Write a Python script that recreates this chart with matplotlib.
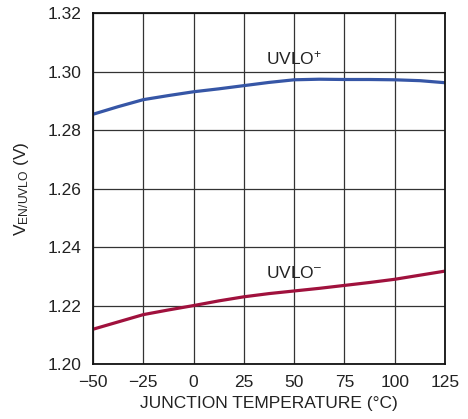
import matplotlib
matplotlib.use("Agg")
import matplotlib.pyplot as plt
from matplotlib import font_manager

temps = [-50, -37.5, -25, -12.5, 0, 12.5, 25, 37.5, 50, 62.5, 75, 87.5, 100, 112.5, 125]
uvlo_plus = [1.2855, 1.2881, 1.2905, 1.2919, 1.2932, 1.2942, 1.2953, 1.2964, 1.2973,
             1.2975, 1.2974, 1.2974, 1.2973, 1.2970, 1.2963]
uvlo_minus = [1.2119, 1.2144, 1.2169, 1.2185, 1.2200, 1.2216, 1.2230, 1.2241, 1.2250,
              1.2259, 1.2269, 1.2279, 1.2290, 1.2304, 1.2318]
xticks = [-50, -25, 0, 25, 50, 75, 100, 125]
xtick_labels = ["\u221250", "\u221225", "0", "25", "50", "75", "100", "125"]
yticks = [1.20, 1.22, 1.24, 1.26, 1.28, 1.30, 1.32]
ytick_labels = ["1.20", "1.22", "1.24", "1.26", "1.28", "1.30", "1.32"]

names = {f.name for f in font_manager.fontManager.ttflist}
fam = ["Liberation Sans Narrow", "Liberation Sans", "DejaVu Sans"]
fam = [f for f in fam if f in names] or ["DejaVu Sans"]
plt.rcParams['font.family'] = fam
plt.rcParams['mathtext.fontset'] = 'custom'
plt.rcParams['mathtext.rm'] = fam[0]
plt.rcParams['mathtext.it'] = fam[0]

fig = plt.figure(figsize=(4.68, 4.19), dpi=100)
ax = fig.add_axes([0.1987, 0.1313, 0.7522, 0.8365])

ax.plot(temps, uvlo_plus, color="#3656a6", lw=2.3, solid_capstyle="butt", solid_joinstyle="round")
ax.plot(temps, uvlo_minus, color="#a0113d", lw=2.3, solid_capstyle="butt", solid_joinstyle="round")

ax.set_xlim(-50, 125)
ax.set_ylim(1.20, 1.32)
ax.set_xticks(xticks)
ax.set_xticklabels(xtick_labels)
ax.set_yticks(yticks)
ax.set_yticklabels(ytick_labels)
ax.tick_params(length=0, labelsize=12.5, colors="#222222", pad=8)
ax.grid(True, color="#333333", lw=0.9)
for s in ax.spines.values():
    s.set_color("#111111")
    s.set_linewidth(1.3)

ax.text(50, 1.3047, "UVLO$^{+}$", ha="center", va="center", fontsize=12.5, color="#222222")
ax.text(50, 1.2312, "UVLO$^{\u2013}$", ha="center", va="center", fontsize=12.5, color="#222222")

ax.set_xlabel("JUNCTION TEMPERATURE (\u00b0C)", fontsize=12.5, color="#222222", labelpad=4)
ax.set_ylabel("V$_{\\mathrm{EN/UVLO}}$ (V)", fontsize=12.5, color="#222222", labelpad=12)

fig.savefig("out.png", dpi=100)
